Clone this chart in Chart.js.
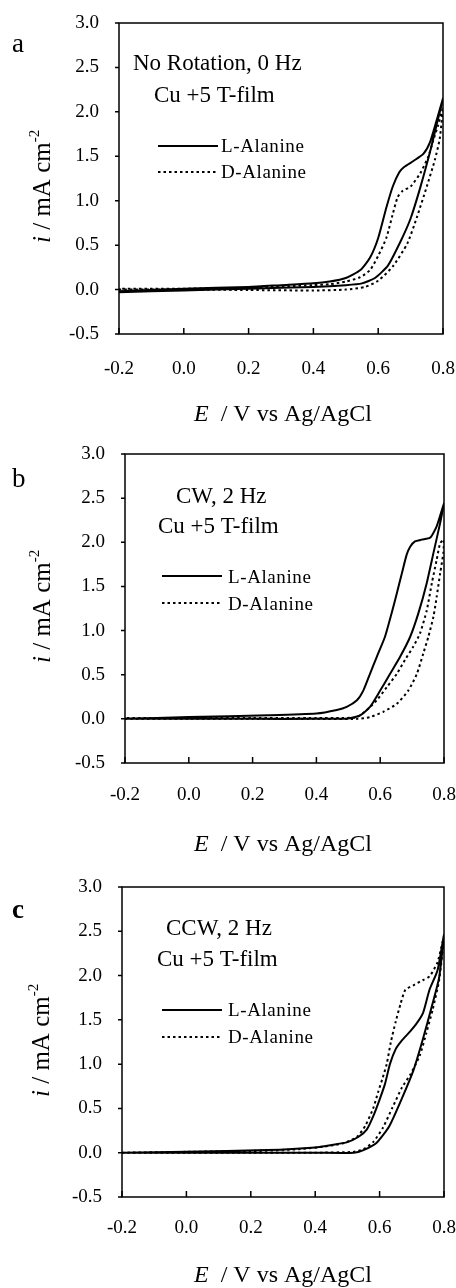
<!DOCTYPE html>
<html>
<head>
<meta charset="utf-8">
<script src="https://cdn.jsdelivr.net/npm/chart.js@4"></script>
<style>
  body { margin: 0; background: #fff; }
  canvas { position: absolute; left: 0; }
</style>
</head>
<body>
<canvas id="panelA" width="456" height="430" style="top:0px"></canvas>
<canvas id="panelB" width="456" height="430" style="top:430px"></canvas>
<canvas id="panelC" width="456" height="428" style="top:860px"></canvas>
<script>
// Axis ticks (same on all three panels)
const xTicks = [-0.2, 0.0, 0.2, 0.4, 0.6, 0.8]
const yTicks = [-0.5, 0.0, 0.5, 1.0, 1.5, 2.0, 2.5, 3.0]
const seriesNames = ['L-Alanine', 'D-Alanine']

// Panel a - no rotation. Each loop: forward scan up to 0.8 V, then back
const aL_E = [-0.2, 0.0, 0.2, 0.4, 0.5, 0.55, 0.59, 0.63, 0.67, 0.70, 0.73, 0.76, 0.78, 0.80,
  0.78, 0.76, 0.74, 0.71, 0.68, 0.665, 0.645, 0.625, 0.60, 0.575, 0.545, 0.50, 0.45, 0.40, 0.30, 0.20, 0.0, -0.2]
const aL_i = [-0.03, -0.01, 0.01, 0.03, 0.05, 0.07, 0.13, 0.27, 0.55, 0.80, 1.15, 1.55, 1.85, 2.15,
  1.90, 1.66, 1.53, 1.45, 1.38, 1.32, 1.16, 0.92, 0.58, 0.36, 0.22, 0.13, 0.09, 0.07, 0.05, 0.03, 0.01, -0.02]
const aD_E = [-0.2, 0.0, 0.2, 0.4, 0.5, 0.56, 0.60, 0.645, 0.69, 0.72, 0.75, 0.775, 0.79, 0.80,
  0.785, 0.77, 0.755, 0.73, 0.70, 0.675, 0.66, 0.645, 0.625, 0.60, 0.575, 0.545, 0.50, 0.45, 0.40, 0.2, 0.0, -0.2]
const aD_i = [0.0, 0.0, -0.005, -0.01, 0.0, 0.03, 0.10, 0.26, 0.52, 0.82, 1.16, 1.46, 1.70, 2.05,
  1.85, 1.68, 1.50, 1.31, 1.16, 1.11, 1.04, 0.85, 0.58, 0.38, 0.22, 0.14, 0.09, 0.06, 0.05, 0.02, 0.01, 0.01]

// Panel b - CW, 2 Hz
const bL_E = [-0.2, 0.0, 0.2, 0.4, 0.50, 0.537, 0.568, 0.60, 0.631, 0.662, 0.694, 0.72, 0.746, 0.767, 0.788, 0.80,
  0.777, 0.756, 0.73, 0.709, 0.694, 0.683, 0.668, 0.652, 0.636, 0.615, 0.589, 0.568, 0.547, 0.527, 0.495, 0.464, 0.40, 0.25, 0.0, -0.2]
const bL_i = [0.0, 0.0, 0.0, 0.0, 0.005, 0.04, 0.135, 0.32, 0.51, 0.70, 0.93, 1.20, 1.54, 1.88, 2.22, 2.44,
  2.18, 2.05, 2.03, 2.01, 1.95, 1.86, 1.65, 1.42, 1.20, 0.93, 0.70, 0.51, 0.32, 0.21, 0.135, 0.10, 0.06, 0.04, 0.02, 0.0]
const bD_E = [-0.2, 0.0, 0.2, 0.4, 0.527, 0.568, 0.61, 0.652, 0.688, 0.715, 0.735, 0.751, 0.767, 0.777, 0.788, 0.798, 0.80,
  0.788, 0.777, 0.762, 0.746, 0.725, 0.704, 0.678, 0.652, 0.621, 0.589, 0.558, 0.527, 0.48, 0.4, 0.2, 0.0, -0.2]
const bD_i = [0.0, 0.0, 0.0, 0.0, 0.0, 0.02, 0.08, 0.17, 0.32, 0.51, 0.74, 0.93, 1.16, 1.38, 1.65, 1.88, 2.03,
  1.99, 1.80, 1.54, 1.23, 0.97, 0.82, 0.67, 0.51, 0.36, 0.21, 0.10, 0.02, 0.01, 0.01, 0.01, 0.01, 0.01]

// Panel c - CCW, 2 Hz
const cL_E = [-0.2, 0.0, 0.2, 0.4, 0.52, 0.55, 0.59, 0.63, 0.67, 0.705, 0.735, 0.765, 0.785, 0.80,
  0.78, 0.755, 0.735, 0.715, 0.695, 0.67, 0.65, 0.632, 0.617, 0.60, 0.58, 0.56, 0.535, 0.50, 0.455, 0.40, 0.25, 0.0, -0.2]
const cL_i = [0.0, 0.0, 0.0, 0.0, 0.0, 0.03, 0.11, 0.30, 0.62, 0.93, 1.29, 1.69, 1.98, 2.46,
  2.06, 1.84, 1.58, 1.46, 1.37, 1.27, 1.17, 1.00, 0.78, 0.60, 0.41, 0.26, 0.18, 0.12, 0.09, 0.06, 0.03, 0.01, 0.0]
const cD_E = [-0.2, 0.0, 0.2, 0.4, 0.52, 0.55, 0.58, 0.61, 0.64, 0.67, 0.695, 0.725, 0.745, 0.765, 0.785, 0.80,
  0.78, 0.755, 0.735, 0.705, 0.68, 0.665, 0.65, 0.635, 0.622, 0.61, 0.595, 0.58, 0.555, 0.53, 0.49, 0.43, 0.35, 0.2, 0.0, -0.2]
const cD_i = [0.0, 0.0, 0.0, 0.0, 0.01, 0.04, 0.12, 0.28, 0.51, 0.74, 0.88, 1.10, 1.35, 1.62, 1.95, 2.44,
  2.15, 1.99, 1.95, 1.89, 1.84, 1.68, 1.48, 1.25, 1.00, 0.85, 0.68, 0.50, 0.30, 0.18, 0.11, 0.07, 0.04, 0.02, 0.01, 0.0]

const SERIF = '"Liberation Serif", "Times New Roman", serif'

// draw a row of text pieces with different fonts one after another
function drawRuns (ctx, runs, x, y) {
  runs.forEach(r => {
    ctx.font = r.font
    ctx.fillText(r.text, x, y + (r.dy || 0))
    x += ctx.measureText(r.text).width
  })
}

// frame, tick marks, legend and all the text around a panel
const panelDecor = {
  id: 'panelDecor',
  afterDraw (chart, args, o) {
    const { ctx, chartArea: { left, right, top, bottom }, scales: { x, y } } = chart
    ctx.save()
    ctx.strokeStyle = '#000'
    ctx.fillStyle = '#000'
    ctx.lineWidth = 1.5
    ctx.strokeRect(left, top, right - left, bottom - top)

    // y ticks point out, x ticks point in
    ctx.beginPath()
    y.ticks.forEach(t => {
      const py = y.getPixelForValue(t.value)
      ctx.moveTo(left - 4, py)
      ctx.lineTo(left, py)
    })
    x.ticks.forEach(t => {
      const px = x.getPixelForValue(t.value)
      ctx.moveTo(px, bottom)
      ctx.lineTo(px, bottom - 6)
    })
    ctx.stroke()

    ctx.textBaseline = 'alphabetic'
    ctx.textAlign = 'left'

    // panel letter
    ctx.font = (o.letterBold ? 'bold ' : '') + '27px ' + SERIF
    ctx.fillText(o.letter, 12, o.letterY)

    // condition text
    ctx.font = '23px ' + SERIF
    o.notes.forEach(n => ctx.fillText(n[0], n[1], n[2]))

    // legend
    const lg = o.legend
    ctx.lineWidth = 2
    chart.data.datasets.forEach((ds, k) => {
      ctx.setLineDash(ds.borderDash || [])
      ctx.beginPath()
      ctx.moveTo(lg.x0, lg.lineY[k])
      ctx.lineTo(lg.x1, lg.lineY[k])
      ctx.stroke()
      ctx.setLineDash([])
      ctx.font = '19px ' + SERIF
      ctx.letterSpacing = '0.6px'
      ctx.fillText(ds.label, lg.textX, lg.textY[k])
      ctx.letterSpacing = '0px'
    })

    // x axis title
    drawRuns(ctx, [
      { text: 'E', font: 'italic 24px ' + SERIF },
      { text: '  / V vs Ag/AgCl', font: '24px ' + SERIF }
    ], o.xTitle[0], o.xTitle[1])

    // y axis title, rotated
    ctx.translate(o.yTitle[0], o.yTitle[1])
    ctx.rotate(-Math.PI / 2)
    drawRuns(ctx, [
      { text: 'i', font: 'italic 25px ' + SERIF },
      { text: ' / mA cm', font: '25px ' + SERIF },
      { text: '-2', font: '15px ' + SERIF, dy: -11 }
    ], 0, 0)
    ctx.restore()
  }
}

function makePanel (id, L_E, L_i, D_E, D_i, geo, decor) {
  const toPts = (E, I) => E.map((e, k) => ({ x: e, y: I[k] }))
  const canvas = document.getElementById(id)
  const H = canvas.height
  const tickFont = { family: SERIF, size: 19 }
  return new Chart(canvas, {
    type: 'scatter',
    plugins: [panelDecor],
    data: {
      datasets: [
        {
          label: seriesNames[0],
          data: toPts(L_E, L_i),
          showLine: true,
          borderColor: '#000',
          borderWidth: 2,
          pointRadius: 0,
          tension: 0.2
        },
        {
          label: seriesNames[1],
          data: toPts(D_E, D_i),
          showLine: true,
          borderColor: '#000',
          borderWidth: 2,
          borderDash: [2.5, 3],
          pointRadius: 0,
          tension: 0.2
        }
      ]
    },
    options: {
      responsive: false,
      animation: false,
      events: [],
      layout: { padding: { top: geo.top, right: canvas.width - geo.right, left: 0, bottom: 0 } },
      scales: {
        x: {
          type: 'linear',
          min: xTicks[0],
          max: xTicks[xTicks.length - 1],
          afterBuildTicks (scale) { scale.ticks = xTicks.map(v => ({ value: v })) },
          afterFit (scale) {
            scale.height = H - geo.bottom
            // keep label overflow from pushing the plot box in
            scale.paddingLeft = 0
            scale.paddingRight = 0
          },
          grid: { display: false, drawTicks: false },
          border: { display: false },
          ticks: {
            font: tickFont,
            color: '#000',
            padding: geo.xPad,
            maxRotation: 0,
            autoSkip: false,
            callback: v => v.toFixed(1)
          }
        },
        y: {
          type: 'linear',
          min: yTicks[0],
          max: yTicks[yTicks.length - 1],
          afterBuildTicks (scale) { scale.ticks = yTicks.map(v => ({ value: v })) },
          afterFit (scale) {
            scale.width = geo.left
            scale.paddingTop = 0
            scale.paddingBottom = 0
          },
          grid: { display: false, drawTicks: false },
          border: { display: false },
          ticks: {
            font: tickFont,
            color: '#000',
            padding: 20,
            autoSkip: false,
            callback: v => v.toFixed(1)
          }
        }
      },
      plugins: {
        legend: { display: false },
        tooltip: { enabled: false },
        panelDecor: decor
      }
    }
  })
}

makePanel('panelA', aL_E, aL_i, aD_E, aD_i,
  { left: 119, right: 443, top: 23, bottom: 334, xPad: 24 },
  {
    letter: 'a', letterY: 52,
    notes: [['No Rotation, 0 Hz', 133, 70], ['Cu +5 T-film', 154, 102]],
    legend: { x0: 158, x1: 218, lineY: [146, 172], textX: 221, textY: [152, 178] },
    xTitle: [194, 421],
    yTitle: [50, 243]
  })

makePanel('panelB', bL_E, bL_i, bD_E, bD_i,
  { left: 125, right: 444, top: 24, bottom: 333, xPad: 21 },
  {
    letter: 'b', letterY: 57,
    notes: [['CW, 2 Hz', 176, 73], ['Cu +5 T-film', 158, 103]],
    legend: { x0: 162, x1: 222, lineY: [146, 173], textX: 228, textY: [153, 180] },
    xTitle: [194, 421],
    yTitle: [50, 233]
  })

makePanel('panelC', cL_E, cL_i, cD_E, cD_i,
  { left: 122, right: 444, top: 27, bottom: 337, xPad: 20 },
  {
    letter: 'c', letterY: 58, letterBold: true,
    notes: [['CCW, 2 Hz', 166, 75], ['Cu +5 T-film', 157, 106]],
    legend: { x0: 162, x1: 222, lineY: [150, 177], textX: 228, textY: [156, 183] },
    xTitle: [194, 422],
    yTitle: [49, 237]
  })
</script>
</body>
</html>
